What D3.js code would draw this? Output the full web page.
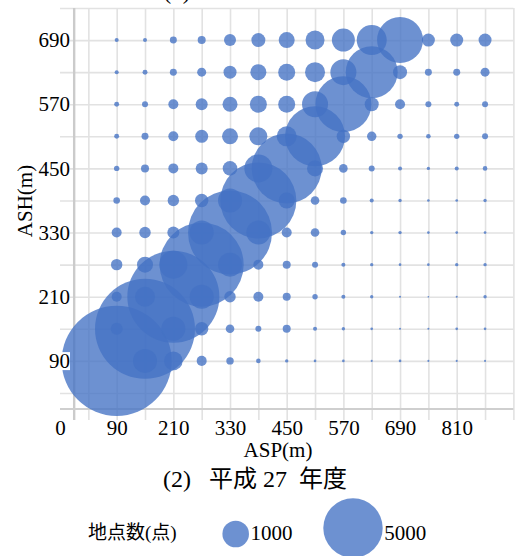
<!DOCTYPE html>
<html>
<head>
<meta charset="utf-8">
<script src="https://cdn.jsdelivr.net/npm/d3@7"></script>
<style>
  html, body { margin: 0; padding: 0; background: #fff; }
  svg { display: block; }
  text { font-family: "Liberation Serif", "Noto Sans CJK JP", serif; fill: #000; }
</style>
</head>
<body>
<svg id="chart" width="518" height="556"></svg>
<script>
// Bin centres (m)
const aspBins = [90, 150, 210, 270, 330, 390, 450, 510, 570, 630, 690, 750, 810, 870];
const ashBins = [90, 150, 210, 270, 330, 390, 450, 510, 570, 630, 690];

// Number of points per ASH bin, one value per ASP bin
const ash90  = [17150, 816, 490, 142, 78, 30, 16, 10, 10, 6, 10, 6, 6, 6];
const ash150 = [204, 14170, 816, 254, 105, 51, 91, 23, 16, 10, 6, 6, 10, 10];
const ash210 = [142, 567, 12000, 816, 184, 142, 91, 41, 23, 16, 6, 4, 6, 16];
const ash270 = [184, 363, 1110, 10000, 816, 142, 91, 51, 23, 16, 10, 10, 16, 16];
const ash330 = [142, 184, 204, 816, 10000, 816, 142, 105, 41, 16, 16, 10, 10, 10];
const ash390 = [62, 142, 184, 254, 816, 8190, 363, 105, 62, 23, 16, 10, 10, 16];
const ash450 = [41, 91, 142, 204, 302, 1110, 6945, 363, 105, 51, 23, 16, 23, 30];
const ash510 = [35, 69, 142, 240, 363, 460, 567, 5100, 254, 125, 41, 30, 41, 51];
const ash570 = [35, 51, 142, 204, 319, 410, 410, 958, 4445, 278, 142, 51, 35, 51];
const ash630 = [23, 35, 69, 115, 240, 363, 410, 567, 958, 3830, 278, 69, 69, 115];
const ash690 = [23, 23, 69, 91, 204, 278, 363, 512, 750, 1275, 3000, 240, 240, 240];
const countRows = [ash90, ash150, ash210, ash270, ash330, ash390, ash450, ash510, ash570, ash630, ash690];

// Axis ticks
const xTickValues = [-30, 90, 210, 330, 450, 570, 690, 810];
const xTickLabels = ["0", "90", "210", "330", "450", "570", "690", "810"];
const yTickValues = [90, 210, 330, 450, 570, 690];
const xGridValues = [30, 90, 150, 210, 270, 330, 390, 450, 510, 570, 630, 690, 750, 810, 870, 930];
const yGridValues = [30, 90, 150, 210, 270, 330, 390, 450, 510, 570, 630, 690, 750];

// Legend
const legendLabel = "地点数(点)";
const legendValues = [1000, 5000];

const captionPrev = "(1)";
const caption = "(2)   平成 27  年度";
const xTitle = "ASP(m)";
const yTitle = "ASH(m)";

const svg = d3.select("#chart");
const plot = { left: 60, right: 513.4, top: 8, bottom: 409 };

const x = d3.scaleLinear().domain([-30, 930]).range([plot.left, plot.right]);
const y = d3.scaleLinear().domain([0, 750]).range([plot.bottom, plot.top]);
const r = d3.scaleSqrt().domain([0, 5000]).range([0, 29.7]);

const gridColor = "#e2e2e2";
const blue = "#4472C4";

// Horizontal grid lines
svg.append("g")
  .attr("transform", `translate(${plot.left},0)`)
  .call(d3.axisLeft(y).tickValues(yGridValues).tickSize(-(plot.right - plot.left)).tickFormat(""))
  .call(g => g.select(".domain").remove())
  .call(g => g.selectAll(".tick line").attr("stroke", gridColor).attr("stroke-width", 1.6));

// Vertical grid lines, running a little below the axis as ticks
svg.append("g")
  .attr("transform", `translate(0,420)`)
  .call(d3.axisBottom(x).tickValues(xGridValues).tickSize(-(420 - plot.top)).tickFormat(""))
  .call(g => g.select(".domain").remove())
  .call(g => g.selectAll(".tick line").attr("stroke", gridColor).attr("stroke-width", 1.6));

// Zero line of the x scale
svg.append("line")
  .attr("x1", x(0)).attr("x2", x(0))
  .attr("y1", plot.top).attr("y2", 420)
  .attr("stroke", "#cbcbcb").attr("stroke-width", 2.4);

// Bottom axis line
svg.append("line")
  .attr("x1", plot.left).attr("x2", plot.right)
  .attr("y1", y(0)).attr("y2", y(0))
  .attr("stroke", "#cfcfcf").attr("stroke-width", 1.8);

// Bubbles
const points = [];
countRows.forEach((row, i) => {
  row.forEach((v, j) => points.push({ asp: aspBins[j], ash: ashBins[i], count: v }));
});
points.sort((a, b) => b.count - a.count);

svg.append("g")
  .selectAll("circle")
  .data(points)
  .join("circle")
  .attr("cx", d => x(d.asp))
  .attr("cy", d => y(d.ash))
  .attr("r", d => r(d.count))
  .attr("fill", blue)
  .attr("fill-opacity", 0.78);

// Y tick labels (with a white backing over the grid)
const yLab = svg.append("g")
  .attr("transform", `translate(72,0)`)
  .call(d3.axisLeft(y).tickValues(yTickValues).tickSize(0).tickPadding(2))
  .call(g => g.select(".domain").remove());
yLab.selectAll(".tick text")
  .attr("font-size", 21)
  .attr("font-family", "Liberation Serif")
  .attr("fill", "#000");
yLab.selectAll(".tick").each(function() {
  const t = d3.select(this).select("text").node();
  const b = t.getBBox();
  d3.select(this).insert("rect", "text")
    .attr("x", b.x).attr("y", b.y + 3).attr("width", b.width).attr("height", b.height - 6)
    .attr("fill", "#fff");
});

// X tick labels
const xLab = svg.append("g")
  .attr("transform", `translate(0,418)`)
  .call(d3.axisBottom(x).tickValues(xTickValues).tickSize(0).tickPadding(2)
    .tickFormat((d, i) => xTickLabels[i]))
  .call(g => g.select(".domain").remove());
xLab.selectAll(".tick text")
  .attr("font-size", 21)
  .attr("font-family", "Liberation Serif")
  .attr("fill", "#000");

// Axis titles
svg.append("text")
  .attr("x", 278).attr("y", 456.5)
  .attr("text-anchor", "middle")
  .attr("font-size", 21)
  .text(xTitle);

svg.append("text")
  .attr("transform", "translate(32,201) rotate(-90)")
  .attr("text-anchor", "middle")
  .attr("font-size", 21)
  .text(yTitle);

// Captions
svg.append("text")
  .attr("x", 177).attr("y", -1.5)
  .attr("text-anchor", "middle")
  .attr("font-size", 23)
  .text(captionPrev);

svg.append("text")
  .attr("x", 255).attr("y", 487)
  .attr("text-anchor", "middle")
  .attr("font-size", 24)
  .attr("xml:space", "preserve")
  .style("white-space", "pre")
  .text(caption);

// Legend
svg.append("text")
  .attr("x", 88).attr("y", 539)
  .attr("font-size", 19)
  .text(legendLabel);

const legendX = [235.7, 353];
const legendY = [534, 528];
const legend = svg.append("g")
  .selectAll("g")
  .data(legendValues)
  .join("g");
legend.append("circle")
  .attr("cx", (d, i) => legendX[i])
  .attr("cy", (d, i) => legendY[i])
  .attr("r", d => r(d))
  .attr("fill", blue)
  .attr("fill-opacity", 0.78);
legend.append("text")
  .attr("x", (d, i) => legendX[i] + r(d) + 1.5)
  .attr("y", 540)
  .attr("font-size", 21)
  .text(d => d);
</script>
</body>
</html>
